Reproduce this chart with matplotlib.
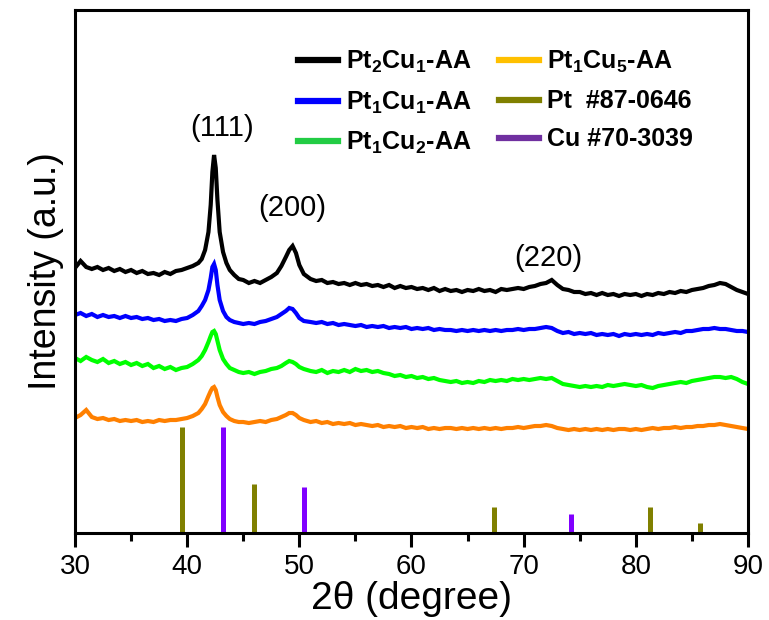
"""XRD patterns of PtCu-AA samples with Pt / Cu reference sticks."""

import matplotlib

matplotlib.use("Agg")
import matplotlib.pyplot as plt
from matplotlib.lines import Line2D

plt.rcParams["font.family"] = ["Liberation Sans", "DejaVu Sans"]
plt.rcParams["mathtext.fontset"] = "custom"
plt.rcParams["mathtext.rm"] = "Liberation Sans:bold"
plt.rcParams["mathtext.it"] = "Liberation Sans:bold"
plt.rcParams["mathtext.bf"] = "Liberation Sans:bold"

# shared 2-theta grid (denser around the (111) and (200) peaks)
two_theta = [
    30.0, 30.5, 31.0, 31.5, 32.0, 32.5, 33.0, 33.5, 34.0, 34.5, 35.0, 35.5,
    36.0, 36.5, 37.0, 37.5, 38.0, 38.5, 39.0, 39.5, 40.0, 40.5, 41.0,
    41.3, 41.6, 41.9, 42.1, 42.25, 42.4, 42.55, 42.7, 42.9, 43.2, 43.5, 43.8, 44.2, 44.6,
    45.0, 45.5, 46.0, 46.5, 47.0, 47.5, 48.0,
    48.4, 48.8, 49.1, 49.4, 49.7, 50.0, 50.4,
    51.0, 51.5, 52.0, 52.5, 53.0, 53.5, 54.0, 54.5, 55.0, 55.5, 56.0, 56.5,
    57.0, 57.5, 58.0, 58.5, 59.0, 59.5, 60.0, 60.5, 61.0, 61.5, 62.0, 62.5,
    63.0, 63.5, 64.0, 64.5, 65.0, 65.5, 66.0, 66.5, 67.0, 67.5, 68.0, 68.5,
    69.0, 69.5, 70.0, 70.5, 71.0, 71.5, 72.0, 72.5, 73.0, 73.5, 74.0, 74.5,
    75.0, 75.5, 76.0, 76.5, 77.0, 77.5, 78.0, 78.5, 79.0, 79.5, 80.0, 80.5,
    81.0, 81.5, 82.0, 82.5, 83.0, 83.5, 84.0, 84.5, 85.0, 85.5, 86.0, 86.5,
    87.0, 87.5, 88.0, 88.5, 89.0, 89.5, 90.0,
]

pt2cu1 = [
    265, 272, 266, 264, 266, 263, 265, 262, 264, 261, 263, 260,
    262, 259, 260, 258, 261, 259, 262, 263, 265, 267, 270,
    274, 283, 301, 328, 361, 378, 365, 333, 301, 281, 270, 263, 258, 254,
    253, 250, 252, 250, 253, 256, 260,
    267, 276, 283, 287, 280, 268, 259,
    254, 252, 253, 250, 251, 249, 250, 248, 250, 248, 249, 247,
    248, 246, 248, 245, 247, 245, 246, 244, 245, 243, 245, 242,
    244, 242, 243, 241, 243, 242, 244, 242, 243, 241, 244, 243,
    244, 245, 244, 246, 247, 249, 250, 253, 248, 244, 243, 241,
    241, 239, 240, 238, 240, 238, 239, 237, 239, 238, 239, 237,
    239, 238, 240, 239, 241, 240, 242, 241, 243, 244, 245, 247,
    248, 250, 249, 246, 243, 241, 239,
]

pt1cu1 = [
    218, 220, 217, 219, 216, 218, 216, 217, 215, 217, 215, 216,
    214, 215, 213, 214, 212, 213, 212, 214, 215, 218, 222,
    227, 233, 243, 255, 266, 269, 263, 248, 233, 222, 216, 213, 211, 210,
    209, 210, 209, 211, 212, 214, 216,
    219, 222, 225, 224, 220, 215, 212,
    211, 210, 211, 209, 210, 208, 209, 208, 207, 208, 206, 207,
    206, 207, 205, 206, 205, 206, 204, 205, 204, 205, 203, 204,
    203, 203, 202, 203, 202, 203, 202, 203, 202, 203, 202, 203,
    203, 204, 203, 204, 204, 205, 206, 205, 202, 200, 201, 199,
    200, 199, 200, 198, 199, 198, 199, 197, 199, 198, 199, 198,
    199, 198, 200, 199, 200, 201, 200, 202, 202, 203, 204, 204,
    205, 204, 204, 203, 202, 202, 201,
]

pt1cu2 = [
    175, 172, 176, 173, 171, 174, 170, 172, 169, 171, 168, 170,
    167, 169, 165, 167, 164, 166, 163, 165, 166, 169, 173,
    177, 183, 191, 197, 201, 202, 199, 192, 183, 174, 169, 165, 163, 161,
    160, 161, 159, 161, 162, 164, 165,
    167, 170, 172, 171, 169, 166, 164,
    162, 161, 163, 160, 162, 161, 163, 161, 164, 162, 163, 161,
    162, 160, 159, 157, 158, 156, 157, 155, 156, 154, 155, 153,
    152, 151, 152, 150, 151, 150, 152, 151, 153, 152, 153, 152,
    154, 153, 154, 153, 154, 155, 154, 155, 152, 149, 148, 147,
    146, 147, 146, 147, 146, 148, 147, 148, 149, 148, 147, 148,
    146, 145, 147, 148, 149, 150, 151, 150, 152, 153, 154, 155,
    156, 156, 155, 156, 154, 151, 149,
]

pt1cu5 = [
    115, 118, 123, 116, 114, 115, 113, 114, 112, 113, 112, 113,
    111, 112, 111, 113, 112, 113, 113, 114, 115, 117, 120,
    124, 129, 137, 142, 145, 146, 143, 136, 128, 121, 117, 114, 112, 111,
    111, 110, 111, 112, 111, 113, 114,
    116, 118, 120, 120, 118, 115, 113,
    111, 112, 110, 111, 109, 110, 109, 110, 108, 109, 108, 107,
    108, 106, 107, 106, 107, 105, 106, 105, 106, 104, 105, 104,
    105, 105, 104, 105, 104, 105, 104, 105, 104, 105, 104, 105,
    105, 106, 105, 106, 107, 107, 108, 107, 105, 104, 103, 104,
    103, 104, 103, 104, 103, 104, 103, 104, 104, 103, 104, 103,
    104, 105, 104, 105, 105, 106, 105, 106, 106, 107, 107, 108,
    108, 109, 108, 107, 106, 105, 104,
]

# reference cards (relative stick heights)
pt_pos = [39.5, 46.0, 67.4, 81.3, 85.7]
pt_int = [106, 49, 26, 26, 10]
cu_pos = [43.2, 50.4, 74.2]
cu_int = [106, 46, 19]

samples = [
    (pt2cu1, "#000000"),
    (pt1cu1, "#0000ff"),
    (pt1cu2, "#00ff00"),
    (pt1cu5, "#ff8000"),
]

fig = plt.figure(figsize=(7.69, 6.2), dpi=100)
ax = fig.add_axes([0.0975, 0.1403, 0.8752, 0.8436])

for y, color in samples:
    ax.plot(two_theta, y, color=color, linewidth=3.0, solid_joinstyle="miter")

ax.vlines(pt_pos, 0, pt_int, color="#808000", linewidth=3.6)
ax.vlines(cu_pos, 0, cu_int, color="#8000ff", linewidth=3.6)

ax.text(43.1, 405, "(111)", fontsize=21, ha="center", va="center")
ax.text(49.4, 325, "(200)", fontsize=21, ha="center", va="center")
ax.text(72.2, 275, "(220)", fontsize=21, ha="center", va="center")

ax.set_xlim(30, 90)
ax.set_ylim(0, 523)
ax.set_xticks([30, 40, 50, 60, 70, 80, 90])
ax.set_xticks([35, 45, 55, 65, 75, 85], minor=True)
ax.set_yticks([])
ax.tick_params(axis="x", which="major", length=10, width=2.2, labelsize=20, pad=5)
ax.tick_params(axis="x", which="minor", length=6, width=2.2)
for spine in ax.spines.values():
    spine.set_linewidth(2.2)

ax.set_xlabel("2θ (degree)", fontsize=28, labelpad=1)
ax.set_ylabel("Intensity (a.u.)", fontsize=27, labelpad=8)

handles = [
    Line2D([], [], color="#000000", linewidth=4.5),
    Line2D([], [], color="#0000ff", linewidth=4.5),
    Line2D([], [], color="#22cc44", linewidth=4.5),
    Line2D([], [], color="#ffc000", linewidth=4.5),
    Line2D([], [], color="#808000", linewidth=4.5),
    Line2D([], [], color="#7030a0", linewidth=4.5),
]
labels = [
    r"Pt$_2$Cu$_1$-AA",
    r"Pt$_1$Cu$_1$-AA",
    r"Pt$_1$Cu$_2$-AA",
    r"Pt$_1$Cu$_5$-AA",
    "Pt  #87-0646",
    "Cu #70-3039",
]
ax.legend(
    handles,
    labels,
    ncol=2,
    loc="upper left",
    bbox_to_anchor=(0.298, 0.968),
    frameon=False,
    prop={"weight": "bold", "size": 18},
    handlelength=1.6,
    handletextpad=0.32,
    columnspacing=1.1,
    labelspacing=0.56,
)

fig.savefig("out.png", dpi=100, facecolor="white")
